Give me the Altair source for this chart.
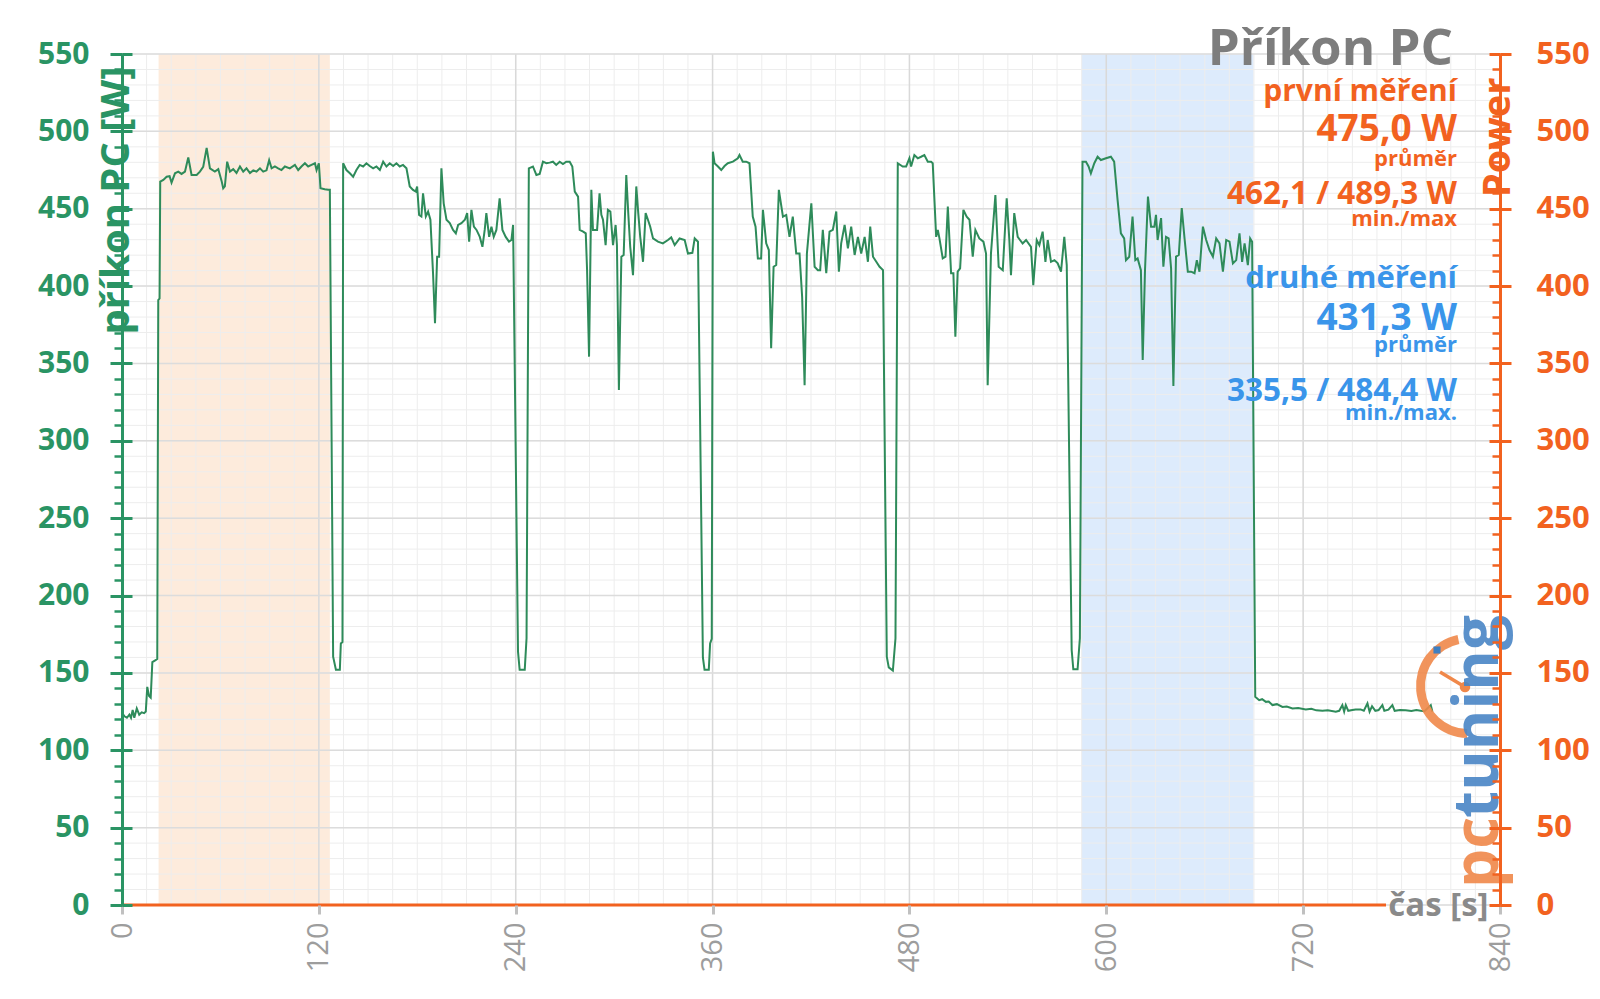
import altair as alt
import pandas as pd

# ---- data ----
time_s = [
    0, 1.5, 3, 4.5, 5.5, 6.5, 7.5, 9, 10.5, 12, 13.5, 14.5, 15.4, 16.5, 17.5, 18.5, 20, 21.5, 22.1, 22.9, 23.3,
    25.2, 27.2, 29, 30.2, 32.3, 34.3, 36.3, 38.4, 40.4, 42.4, 45.5, 47.5, 49.5, 51.6, 53.6, 56.6, 58.7, 60.7,
    61.7, 62.7, 64.1, 65.8, 67.8, 69.8, 71.9, 73.9, 75.9, 78, 80, 82, 84.1, 86.1, 88.1, 89.7, 91.2, 93.2, 95.2,
    97.2, 99.3, 102.3, 105.4, 107.4, 109.4, 111.5, 113.5, 115.5, 117.6, 118.6, 120, 121, 123.6, 125.7, 126.7,
    128.7, 130.4, 132.8, 133.4, 134.4, 134.8,
    136.8, 138.9, 140.9, 142.9, 144.9, 147, 149, 151, 153.1, 155.1, 157.2, 159.2, 161.2, 163.2, 165.3, 167.3,
    169.3, 171.3, 173.4, 175.4, 177.4, 179, 179.9, 181.1, 182.5, 183.5, 185.2, 186.6, 188, 189.6, 190.8, 192.1,
    193.3, 194.7, 196.1, 197.8, 199.8, 201.8, 203.5, 204.9, 206.9, 209, 210.4, 211.6, 213, 214.5, 216.1, 218.1,
    219.7, 221.1, 222.1, 223.8, 225.2, 226.6, 228.2, 230.2, 231.9, 233.9, 235.9, 237.4, 238.4,
    241.4, 242.4, 245.5, 246.6, 248.0,
    250.5, 252.6, 254.6, 256.6, 258.7, 260.7, 262.7, 264.7, 266.8, 268.8, 270.8, 272.9, 274.5, 276, 278, 279,
    281.1, 282.7, 283.5, 284.7, 286.1, 287.1, 289.6, 291.1, 292.2, 293.2, 294.8, 296.2, 297.7, 299.3, 300.9,
    301.7, 302.9, 304.4, 305.8, 307.4, 308.6, 309.8, 311.5, 313.5, 314.7, 315.9, 317.6, 319.2, 320.6, 322,
    323.7, 326.7, 329.7, 332.8, 334.8, 336.9, 339.9, 343, 345, 347.7, 349.1, 351.1,
    354.1, 355.1, 357.7, 358.5, 359.5, 360.2,
    361.2, 363.3, 365.3, 367.3, 369.3, 372.4, 375.4, 376.4, 378.4, 380.5, 382.5, 384.5, 386.2, 387.6, 389.6,
    390.7, 392.7, 394.3, 395.7, 397.2, 398.8, 400.4, 402.9, 404.9, 406.9, 408.9, 411, 413, 414.6, 416.1, 417.5,
    420.2, 422.2, 424.2, 425.6, 427.2, 429.3, 431.3, 433.3, 435.4, 437, 438.4, 440.5, 442.5, 444.5, 446.6,
    448.6, 450.6, 452.7, 454.7, 456.1, 457.8, 459.8, 461.8, 463.9,
    466.2, 467.4, 469.9, 471.5, 472.9,
    475.9, 478, 480, 481, 483, 485.1, 487.1, 489.1, 491.2, 493.2, 494.2, 496.3, 497.3, 498.3, 500.3, 502,
    503.4, 505.4, 506.8, 508, 509.4, 510.9, 512.9, 514.9, 516.6, 518.6, 520.2, 522.6, 525.1, 526.7, 527.7,
    529.7, 532.4, 534.4, 536.9, 539.3, 540.9, 541.9, 543.9, 546, 547.4, 549, 551.1, 554.1, 555.5, 557.6,
    559.2, 561.2, 562.9, 564.3, 566.3, 568.4, 570.4, 572.4, 574.4, 575.9,
    578.9, 579.9, 582.5, 583.9, 585.5,
    587.6, 589.2, 590.6, 592.7, 594.7, 596.7, 599.8, 602.8, 604.8, 606.9, 608.9, 610.9, 612, 614, 616, 617.7,
    619.1, 621.1, 622.2, 623.6, 625.4, 627.3, 629.3, 630.3, 631.3, 633.4, 634.8, 636.4, 638, 639.5, 640.9,
    642.5, 644.2, 646, 647.7, 649.7, 651.7, 653.8, 655.2, 656.8, 658.9, 660.9, 662.9, 665, 667, 669, 671.1,
    673.1, 675.1, 677.2, 679.2, 681.2, 682.8, 684.3, 686.3, 687.7, 688.9,
    690.8, 693.2, 695, 697.3, 699, 701.3, 704, 707.4, 710, 713.5, 717, 721.6, 725, 728, 731.8, 735, 739.9,
    742, 743.9, 745, 746, 747.5, 750, 752, 755, 757, 759.2, 760.5, 762, 764, 766, 768.3, 769.5, 772, 774.4,
    775.8, 779, 782.5, 786, 789, 791.7, 794, 797.8, 798.8,
]
power_w = [
    124, 122, 121, 123, 121, 126, 121, 127, 123, 124.5, 124, 125, 141, 135, 134, 157, 158, 159, 391, 392, 467.5,
    468.6, 470.7, 471, 466.9, 472.9, 474, 472.5, 474, 483.2, 471.8, 471.8, 474, 477, 489.3, 476.1, 474, 475.6, 468,
    463.2, 464.4, 480.4, 474, 475.6, 473.1, 477.3, 474, 476.1, 473.1, 474.8, 474, 476.1, 474, 474.8, 481.4, 476.1,
    477.3, 476.1, 475, 477.3, 476.1, 478.3, 475, 477.3, 479.4, 477.3, 478.3, 479.4, 475, 479.4, 463.2, 462.6,
    462.2, 462.2,
    160.5, 152, 152, 169, 170, 479.4,
    475, 472.9, 470.7, 475, 478.3, 477.3, 479.4, 477.6, 476.1, 477.3, 475, 480.4, 477.3, 479.4, 477.6, 479.4,
    477.3, 478.3, 476.1, 464.4, 462.2, 461.1, 464.4, 446, 445, 460, 445, 448.2, 442.9, 408.3, 376, 419,
    419, 476.1, 453.5, 442.9, 440.7, 436.3, 434.1, 439.5, 440.7, 442.9, 447.2, 428.7, 449.3, 438.4, 436.3, 431.8,
    425.4, 436.3, 447.2, 431.8, 438.4, 431.8, 436.3, 456.7, 436.3, 431.8, 428.7, 429.8, 439.5,
    163.7, 152, 152, 172.4, 476.1,
    477.3, 471.8, 472.5, 480.4, 479.4, 479.8, 480.4, 478.3, 480.4, 478.9, 480.4, 480.4, 477.3, 461.1, 457.8, 436.3,
    435.2, 434.1, 410.3, 354.4, 462.2, 436.3, 436.3, 460, 446, 442.9, 426.5, 449.3, 448.2, 426.5, 439.5,
    426.5, 332.9, 419, 420.1, 471.8, 447.2, 425.4, 407.1, 464.4, 447.2, 431.8, 415.7, 447.2, 442.9, 438.4,
    430.8, 428.7, 427.6, 429.8, 431.5, 426.5, 430.8, 429.8, 421, 421.5, 430.8, 428.7,
    160, 152, 152, 169, 172, 486.9,
    479.4, 477.3, 475, 477.6, 479.4, 480.4, 482.6, 484.7, 480.4, 480.4, 479.4, 444.9, 438.4, 417.9, 417.9,
    449.3, 427.6, 423.3, 359.8, 412.5, 413.6, 462.2, 444.9, 446, 431.8, 444.9, 421, 421, 393, 336, 421,
    453.5, 412.5, 410.3, 410.3, 436.3, 408.3, 435.2, 436.3, 448.2, 409.3, 427.6, 439.5, 424.4, 438.4, 420.1,
    431.8, 421, 431.8, 415.7, 438.4, 419, 415.7, 412.5, 410.3,
    160.5, 153.6, 151.5, 172.4, 479.4,
    477.3, 477.3, 482.6, 477.3, 484.7, 482.6, 483.6, 484.7, 480.4, 480.4, 479.4, 431.8, 436.3, 430.8, 417.9, 419,
    451.4, 408.3, 408.3, 367.3, 409.3, 411.5, 449.3, 444.9, 442.9, 419, 436.3, 430.8, 428.7, 421, 336,
    421, 458.9, 412.5, 410.3, 456.7, 429.8, 407.1, 447.2, 431.8, 429.8, 427.6, 429.8, 425.4, 400.6, 429.8,
    426.5, 435.2, 415.7, 429.8, 415.7, 416.8, 414.7, 409.3, 431.8, 413.6,
    164.8, 152.3, 152.3, 172.4, 480.4,
    480.4, 477.3, 472.9, 479.4, 483.6, 481.5, 482.6, 483.6, 480.4, 455.6, 434.1, 430.8, 416.8, 419, 444.9, 416.8,
    417.9, 410.3, 352.2, 410.3, 457.8, 438.4, 438.4, 446, 429.8, 443.9, 412.5, 431.8, 430.8, 411.5, 335.5,
    419, 420.1, 450.4, 430.8, 409.3, 409.3, 408.3, 416.8, 409.3, 438.4, 429.8, 423.3, 419, 430.8, 427.6, 409.3,
    429.8, 428.7, 414.7, 416.8, 434.1, 415.7, 427.6, 413.6, 430.8, 428.7,
    134.6, 132.4, 133, 131.3, 131.5, 129.2, 129.8, 128, 128.3, 127, 127.3, 126.4, 126.8, 125.8, 125.5, 125.8, 124.9,
    125.5, 129.2, 125, 129.2, 125.5, 126, 126.4, 126.4, 125.6, 130.3, 124.9, 128.5, 125.5, 126, 129.2, 125.5, 126.2, 129.2,
    125.5, 126, 125.8, 125.4, 126, 125.5, 125.2, 129.2, 124.9,
]

band_names = ["první měření", "druhé měření"]
band_from = [22.3, 585.0]
band_to = [126.7, 689.8]

x_major = [0, 120, 240, 360, 480, 600, 720, 840]
x_minor = list(range(0, 841, 15))
y_major = list(range(0, 551, 50))
y_minor = list(range(0, 551, 10))

# ---- styling ----
GREEN = "#2a9464"
LINE = "#2e8b5a"
ORANGE = "#f2621f"
BLUE = "#3a95ea"
GRAY = "#7d7d7d"
FONT = "Open Sans"
W, H = 1378, 851

xs = alt.Scale(domain=[0, 840], nice=False, zero=False)
ys = alt.Scale(domain=[0, 550], nice=False, zero=False)

line_df = pd.DataFrame({"t": time_s, "w": power_w})
band_df = pd.DataFrame({"band": band_names, "t0": band_from, "t1": band_to})
xmaj_df = pd.DataFrame({"t": x_major})
xmin_df = pd.DataFrame({"t": x_minor})
ymaj_df = pd.DataFrame({"w": y_major})
ymin_df = pd.DataFrame({"w": y_minor})
one = alt.Data(values=[{}])

bands = alt.Chart(band_df).mark_rect().encode(
    x=alt.X("t0:Q", scale=xs, axis=None),
    x2="t1:Q",
    y=alt.value(0),
    y2=alt.value(H),
    color=alt.Color("band:N", scale=alt.Scale(domain=band_names, range=["#fdebdc", "#ddebfc"]), legend=None),
)

vminor = alt.Chart(xmin_df).mark_rule(color="#ededed", strokeWidth=1).encode(
    x=alt.X("t:Q", scale=xs, axis=None)
)

hminor = alt.Chart(ymin_df).mark_rule(color="#ededed", strokeWidth=1).encode(
    y=alt.Y("w:Q", scale=ys, title=None,
            axis=alt.Axis(orient="left", values=y_minor, labels=False, domain=False,
                          tickSize=8, tickWidth=2.5, tickColor=GREEN, grid=False, zindex=1))
)

vmajor = alt.Chart(xmaj_df).mark_rule(color="#d9d9d9", strokeWidth=1.5).encode(
    x=alt.X("t:Q", scale=xs, title="čas [s]",
            axis=alt.Axis(orient="bottom", values=x_major, labelAngle=270, labelAlign="right",
                          labelBaseline="middle", labelFont=FONT, labelFontSize=29, labelColor="#9d9d9d",
                          labelPadding=8, labelFlush=False, labelOverlap=False,
                          tickSize=9, tickWidth=3, tickColor="#c0c0c0", domain=False, grid=False, zindex=1,
                          titleFont=FONT, titleFontSize=33, titleFontWeight="bold", titleColor="#8a8a8a",
                          titleX=1366, titleY=0, titleAlign="right", titleBaseline="middle", titleAngle=0))
)

hmajor = alt.Chart(ymaj_df).mark_rule(color="#dcdcdc", strokeWidth=1.5).encode(
    y=alt.Y("w:Q", scale=ys, title="příkon PC [W]",
            axis=alt.Axis(orient="left", values=y_major, labelFont=FONT, labelFontSize=30,
                          labelFontWeight="bold", labelColor=GREEN, labelPadding=21,
                          tickSize=12, tickWidth=3, tickColor=GREEN, domainColor=GREEN, domainWidth=3,
                          grid=False, zindex=1, titleFont=FONT, titleFontSize=40, titleFontWeight="bold",
                          titleColor=GREEN, titleAngle=270, titleAlign="right", titleBaseline="middle",
                          titleX=-6, titleY=12))
)

left_inner = alt.Chart(ymaj_df).mark_rule(opacity=0).encode(
    y=alt.Y("w:Q", scale=ys, title=None,
            axis=alt.Axis(orient="left", offset=-10, values=y_major, labels=False, domain=False,
                          tickSize=10, tickWidth=3, tickColor=GREEN, grid=False, zindex=1))
)

right_main = alt.Chart(ymaj_df).mark_rule(opacity=0).encode(
    y=alt.Y("w:Q", scale=ys, title="Power",
            axis=alt.Axis(orient="right", values=y_major, labelFont=FONT, labelFontSize=31,
                          labelFontWeight="bold", labelColor=ORANGE, labelPadding=25,
                          tickSize=11, tickWidth=3, tickColor=ORANGE, domainColor=ORANGE, domainWidth=3,
                          grid=False, zindex=1, titleFont=FONT, titleFontSize=38, titleFontWeight="bold",
                          titleColor=ORANGE, titleAngle=270, titleAlign="right", titleBaseline="middle",
                          titleX=-2, titleY=23))
)

right_inner = alt.Chart(ymaj_df).mark_rule(opacity=0).encode(
    y=alt.Y("w:Q", scale=ys, title=None,
            axis=alt.Axis(orient="right", offset=-11, values=y_major, labels=False, domain=False,
                          tickSize=11, tickWidth=3, tickColor=ORANGE, grid=False, zindex=1))
)

right_minor = alt.Chart(ymin_df).mark_rule(opacity=0).encode(
    y=alt.Y("w:Q", scale=ys, title=None,
            axis=alt.Axis(orient="right", offset=-8, values=y_minor, labels=False, domain=False,
                          tickSize=8, tickWidth=2.5, tickColor=ORANGE, grid=False, zindex=1))
)

bottom_line = alt.Chart(one).mark_rule(color=ORANGE, strokeWidth=3).encode(
    x=alt.value(0), x2=alt.value(1264), y=alt.value(H)
)

power_line = alt.Chart(line_df).mark_line(color=LINE, strokeWidth=2).encode(
    x=alt.X("t:Q", scale=xs, axis=None),
    y=alt.Y("w:Q", scale=ys, axis=None),
    order="t:Q",
)


def label(text, y, size, color, x=1335):
    return alt.Chart(one).mark_text(
        text=text, align="right", baseline="alphabetic", font=FONT, fontSize=size,
        fontWeight="bold", color=color,
    ).encode(x=alt.value(x), y=alt.value(y))


texts = [
    label("Příkon PC", 11, 51, GRAY, x=1331),
    label("první měření", 47, 30, ORANGE),
    label("475,0 W", 87, 37, ORANGE),
    label("průměr", 112, 22, ORANGE),
    label("462,1 / 489,3 W", 150, 31.5, ORANGE),
    label("min./max", 172, 22, ORANGE),
    label("druhé měření", 234, 31, BLUE),
    label("431,3 W", 276, 37, BLUE),
    label("průměr", 298, 22, BLUE),
    label("335,5 / 484,4 W", 347, 31.5, BLUE),
    label("min./max.", 366, 22, BLUE),
]

# pctuning logo (decoration)
LOGO_O = "#f0884a"
LOGO_B = "#4a86c6"
logo = [
    alt.Chart(one).mark_arc(radius=52, radius2=43, theta=3.16, theta2=6.08, color=LOGO_O, opacity=0.9)
    .encode(x=alt.value(1346), y=alt.value(632)),
    alt.Chart(one).mark_rule(color=LOGO_O, strokeWidth=3.5)
    .encode(x=alt.value(1343), y=alt.value(633), x2=alt.value(1318), y2=alt.value(618)),
    alt.Chart(one).mark_circle(size=110, color=LOGO_O, opacity=1)
    .encode(x=alt.value(1343), y=alt.value(633)),
    alt.Chart(one).mark_square(size=50, color="#3f7fc0", opacity=1)
    .encode(x=alt.value(1315), y=alt.value(596)),
    alt.Chart(one).mark_text(text="pc", angle=270, align="left", baseline="alphabetic", font=FONT,
                             fontSize=62, fontWeight="bold", color=LOGO_O, opacity=0.9)
    .encode(x=alt.value(1376), y=alt.value(834)),
    alt.Chart(one).mark_text(text="tuning", angle=270, align="left", baseline="alphabetic", font=FONT,
                             fontSize=62, fontWeight="bold", color=LOGO_B, opacity=0.9)
    .encode(x=alt.value(1376), y=alt.value(764)),
]

chart = alt.layer(
    bands, vminor, hminor, vmajor, hmajor, left_inner, right_main, right_inner, right_minor,
    bottom_line, power_line, *texts, *logo,
).resolve_axis(x="independent", y="independent").properties(
    width=W, height=H,
    padding={"left": 122, "top": 54, "right": 100, "bottom": 94},
    autosize=alt.AutoSizeParams(type="none"),
    background="white",
).configure_view(stroke=None)

chart.save("out.html", embed_options={"renderer": "svg", "actions": False})
